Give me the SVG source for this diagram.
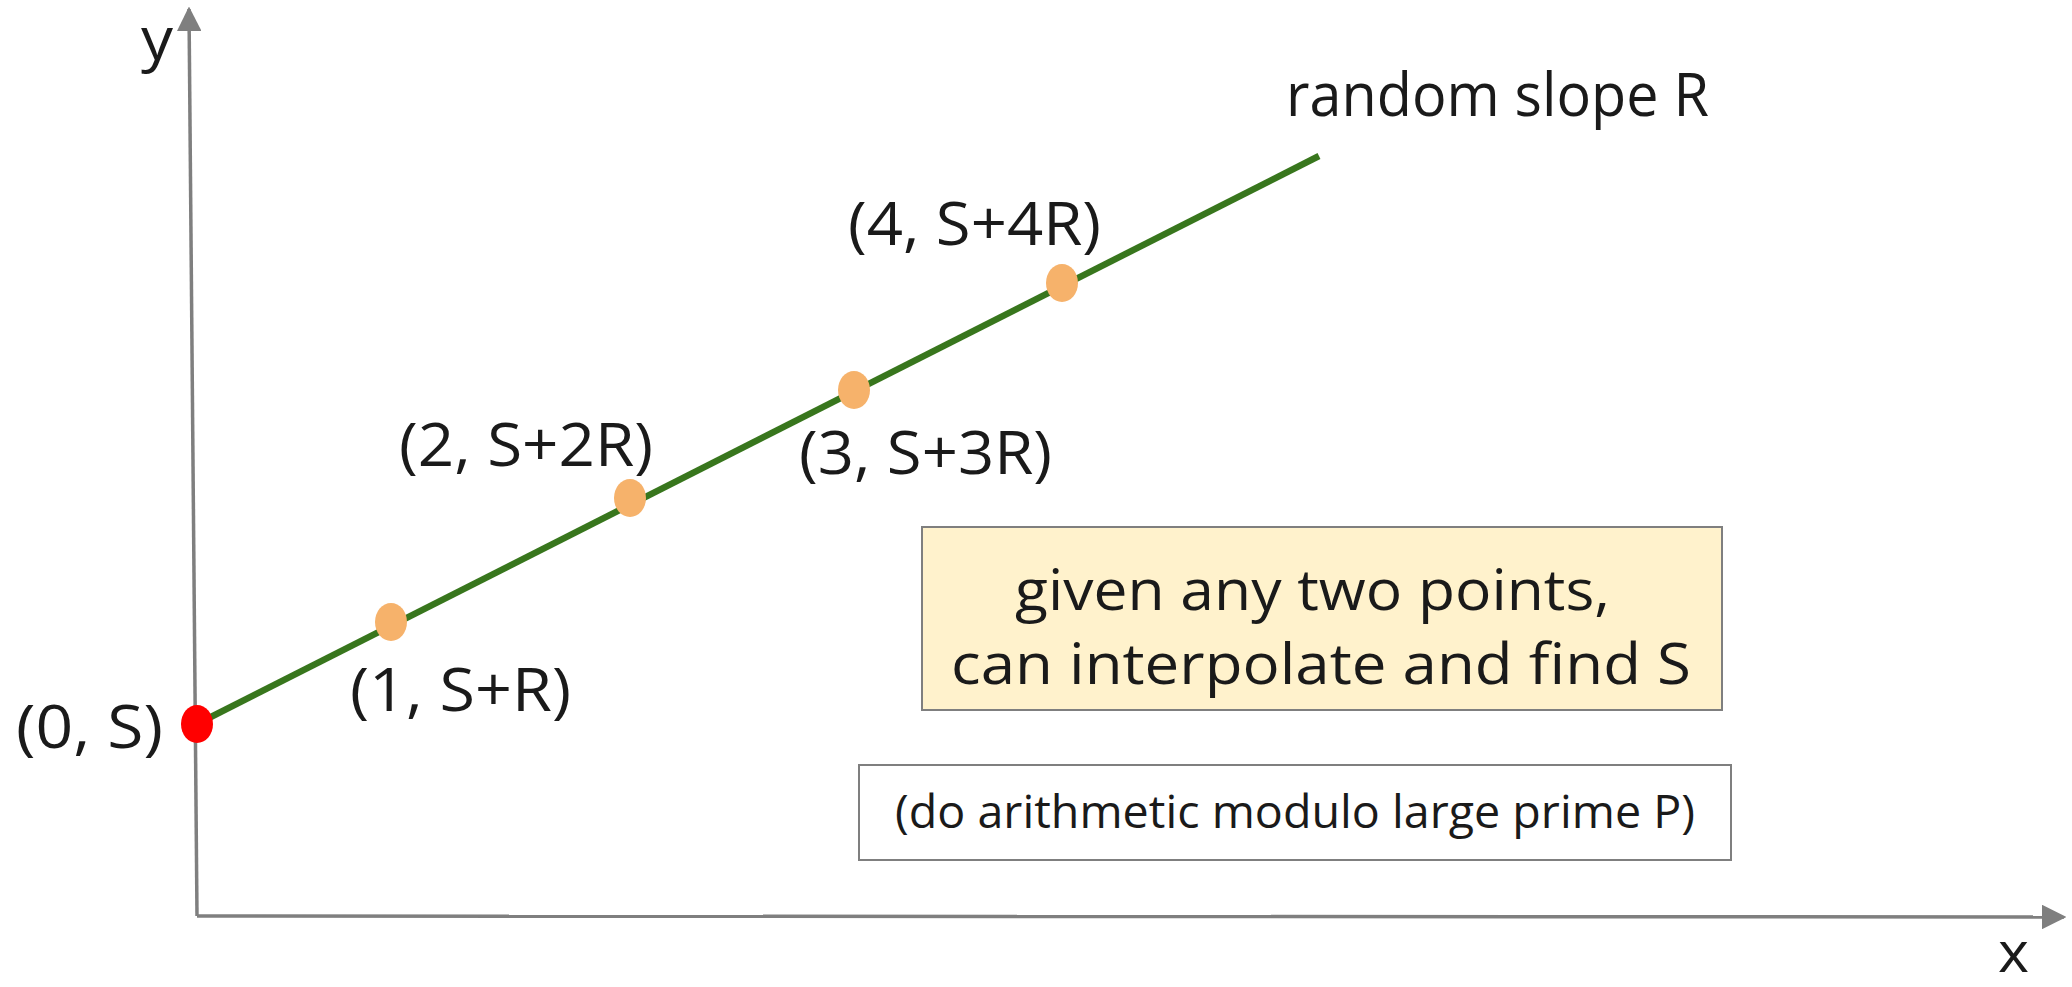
<svg xmlns="http://www.w3.org/2000/svg" width="2072" height="987" viewBox="0 0 2072 987">
<defs>
<style>
.t{font-family:"Open Sans","Noto Sans","DejaVu Sans",sans-serif;fill:#1a1a1a;}
.lbl{font-size:60px;}
.box{font-size:57px;}
.small{font-size:45px;}
.axis{stroke:#7f7f7f;stroke-width:3.5;fill:none;}
.pt{fill:#f6b26b;}
</style>
<marker id="arr" viewBox="0 0 10 10" refX="9" refY="5" markerWidth="7" markerHeight="7" orient="auto" markerUnits="strokeWidth">
<path d="M0,0 L10,5 L0,10 z" fill="#7f7f7f"/>
</marker>
</defs>
<rect width="2072" height="987" fill="#ffffff"/>
<g id="axes">
<line class="axis" x1="197" y1="916" x2="189" y2="9" marker-end="url(#arr)"/>
<line class="axis" x1="197" y1="916" x2="2064" y2="917" marker-end="url(#arr)"/>
<text class="t lbl" x="141" y="60" textLength="32" lengthAdjust="spacingAndGlyphs">y</text>
<text class="t" style="font-size:56px" x="1998" y="972" textLength="31" lengthAdjust="spacingAndGlyphs">x</text>
</g>
<g id="connectors">
<line x1="197" y1="724" x2="1319" y2="156" stroke="#38761d" stroke-width="6.5"/>
</g>
<g id="p0">
<ellipse cx="197" cy="724" rx="16" ry="19" fill="#ff0000"/>
<text class="t lbl" x="16" y="748" textLength="147" lengthAdjust="spacingAndGlyphs">(0, S)</text>
</g>
<g id="p1">
<ellipse class="pt" cx="391" cy="622" rx="16" ry="19"/>
<text class="t lbl" x="350" y="711" textLength="221" lengthAdjust="spacingAndGlyphs">(1, S+R)</text>
</g>
<g id="p2">
<ellipse class="pt" cx="630" cy="498" rx="16" ry="19"/>
<text class="t lbl" x="399" y="466" textLength="254" lengthAdjust="spacingAndGlyphs">(2, S+2R)</text>
</g>
<g id="p3">
<ellipse class="pt" cx="854" cy="390" rx="16" ry="19"/>
<text class="t lbl" x="799" y="474" textLength="253" lengthAdjust="spacingAndGlyphs">(3, S+3R)</text>
</g>
<g id="p4">
<ellipse class="pt" cx="1062" cy="283" rx="16" ry="19"/>
<text class="t lbl" x="848" y="245" textLength="253" lengthAdjust="spacingAndGlyphs">(4, S+4R)</text>
</g>
<g id="slope">
<text class="t lbl" x="1286" y="116" textLength="423" lengthAdjust="spacingAndGlyphs">random slope R</text>
</g>
<g id="note">
<rect x="922" y="527" width="800" height="183" fill="#fff2cc" stroke="#7f7f7f" stroke-width="2"/>
<text class="t box" x="1015" y="610" textLength="595" lengthAdjust="spacingAndGlyphs">given any two points,</text>
<text class="t box" x="951" y="684" textLength="740" lengthAdjust="spacingAndGlyphs">can interpolate and find S</text>
</g>
<g id="modnote">
<rect x="859" y="765" width="872" height="95" fill="#ffffff" stroke="#7f7f7f" stroke-width="2"/>
<text class="t small" x="895" y="828" textLength="800" lengthAdjust="spacingAndGlyphs">(do arithmetic modulo large prime P)</text>
</g>
</svg>
